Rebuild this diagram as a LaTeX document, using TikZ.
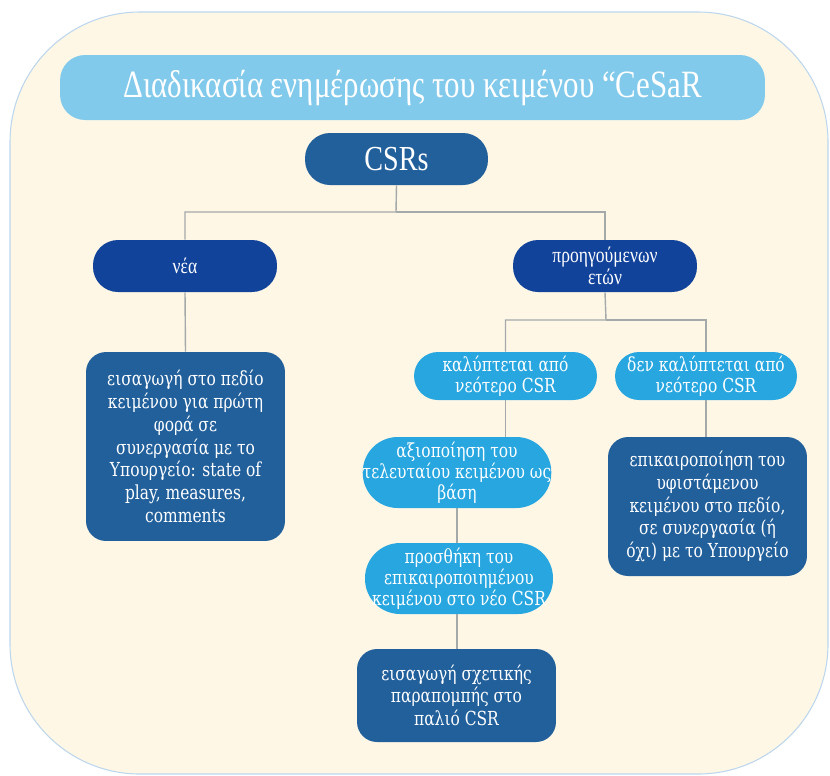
\documentclass[tikz,border=0pt]{standalone}
\usepackage{fontspec}
\usepackage{xcolor}
\usepackage{tikz}
\usetikzlibrary{positioning}
\setmainfont{Liberation Serif}
\newfontfamily\headfont{Liberation Serif}[FakeStretch=0.8]
\newfontfamily\boxfont{DejaVu Serif}[FakeStretch=0.8]
\definecolor{panelfill}{HTML}{FEF7E6}
\definecolor{panelline}{HTML}{BCD6EE}
\definecolor{titleblue}{HTML}{82CAEB}
\definecolor{midblue}{HTML}{22609C}
\definecolor{deepblue}{HTML}{12439B}
\definecolor{skyblue}{HTML}{27A6E0}
\definecolor{linkgray}{HTML}{A4AAAA}

\begin{document}
\begin{tikzpicture}[x=0.02cm,y=-0.02cm,
    every node/.style = {text=white, align=center, inner sep=0pt},
    panel/.style   = {fill=panelfill, draw=panelline, line width=0.6pt,
                      rounded corners=2.6cm},
    banner/.style  = {fill=titleblue, rounded corners=0.5cm,
                      font=\headfont\fontsize{22}{24}\selectfont},
    pill/.style    = {rounded corners=0.5cm, minimum width=3.68cm,
                      minimum height=1.04cm},
    headpill/.style= {pill, fill=deepblue,
                      font=\headfont\fontsize{12.5}{12.5}\selectfont},
    lightpill/.style={fill=skyblue, rounded corners=0.48cm,
                      font=\boxfont\fontsize{11}{12}\selectfont},
    card/.style    = {fill=midblue, rounded corners=0.4cm,
                      font=\boxfont\fontsize{11}{13}\selectfont},
    link/.style    = {draw=linkgray, line width=0.8pt}
  ]
  \useasboundingbox (0,0) rectangle (830,775);
  \path[panel] (10,12) rectangle (828,774);

  \node[banner, minimum width=14.1cm, minimum height=1.3cm] (title) at (412.5,87.5)
    {Διαδικασία ενημέρωσης του κειμένου “CeSaR};
  \node[pill, fill=midblue, minimum width=3.66cm,
        font=\headfont\fontsize{20}{22}\selectfont] (csrs) at (396.5,159) {CSRs};

  \node[headpill] (nea) at (185,266) {νέα};
  \node[headpill] (proig) at (605,266) {προηγούμενων\\ετών};

  \node[card, minimum width=3.98cm, minimum height=3.78cm] (neaText) at (185.5,446.5)
    {εισαγωγή στο πεδίο\\κειμένου για πρώτη\\φορά σε\\συνεργασία με το\\Υπουργείο: state of\\play, measures,\\comments};

  \node[lightpill, minimum width=3.66cm, minimum height=0.96cm] (kal) at (505.5,376)
    {καλύπτεται από\\νεότερο CSR};
  \node[lightpill, minimum width=3.64cm, minimum height=0.96cm] (denKal) at (706,376)
    {δεν καλύπτεται από\\νεότερο CSR};

  \node[lightpill, rounded corners=0.7cm, minimum width=3.72cm, minimum height=1.42cm] (axiop) at (457,472.5)
    {αξιοποίηση του\\τελευταίου κειμένου ως\\βάση};
  \node[lightpill, rounded corners=0.7cm, minimum width=3.76cm, minimum height=1.42cm] (prosth) at (459,578.5)
    {προσθήκη του\\επικαιροποιημένου\\κειμένου στο νέο CSR};
  \node[card, minimum width=3.98cm, minimum height=1.86cm] (eisag) at (456.5,695.5)
    {εισαγωγή σχετικής\\παραπομπής στο\\παλιό CSR};

  \node[card, minimum width=3.98cm, minimum height=2.78cm] (epik) at (707.5,506.5)
    {επικαιροποίηση του\\υφιστάμενου\\κειμένου στο πεδίο,\\σε συνεργασία (ή\\όχι) με το Υπουργείο};

  \coordinate (forkTop) at (396,212);
  \coordinate (forkOld) at (606,320);
  \draw[link] (csrs.south) -- (forkTop) -| (nea.north);
  \draw[link] (forkTop) -| (proig.north);
  \draw[link] (nea.south) -- (neaText.north);
  \draw[link] (proig.south) -- (forkOld) -| (kal.north);
  \draw[link] (forkOld) -| (denKal.north);
  \draw[link] (kal.south) -- (kal.south |- axiop.north);
  \draw[link] (axiop.south) -- (axiop.south |- prosth.north);
  \draw[link] (prosth.south -| axiop.south) -- (axiop.south |- eisag.north);
  \draw[link] (denKal.south) -- (denKal.south |- epik.north);
\end{tikzpicture}
\end{document}
